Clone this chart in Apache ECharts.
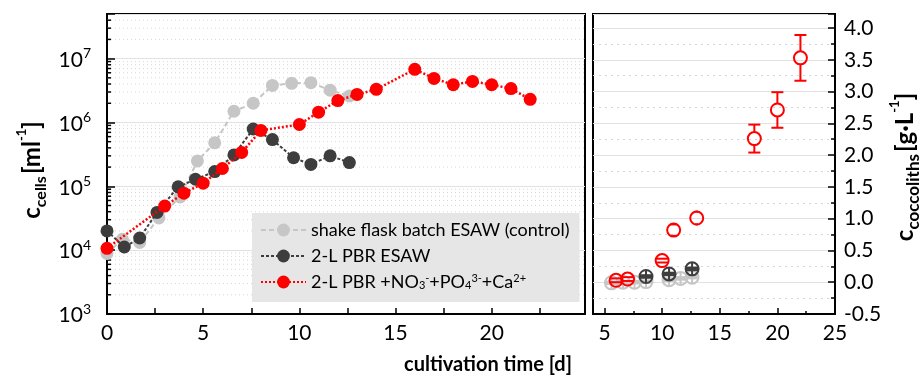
<!DOCTYPE html>
<html><head><meta charset="utf-8">
<script src="https://cdn.jsdelivr.net/npm/echarts@6/dist/echarts.min.js"></script>
<style>html,body{margin:0;padding:0;background:#fff}#c{width:919px;height:384px}</style>
</head><body><div id="c"></div>
<script>
// ---------- Left panel: cell concentration (log scale) ----------
const controlDays  = [0, 0.8, 1.7, 2.7, 3.8, 4.7, 5.6, 6.6, 7.6, 8.6, 9.6, 10.6, 11.6, 12.6];
const controlCells = [8.9e3, 1.48e4, 1.32e4, 3.2e4, 6.8e4, 2.5e5, 4.8e5, 1.5e6, 2.0e6, 3.8e6, 4.1e6, 4.2e6, 3.2e6, 2.6e6];
const pbrDays  = [0, 0.9, 1.7, 2.6, 3.7, 4.6, 5.6, 6.6, 7.6, 8.6, 9.7, 10.6, 11.6, 12.6];
const pbrCells = [2.0e4, 1.12e4, 1.55e4, 3.9e4, 9.8e4, 1.29e5, 1.7e5, 3.1e5, 7.9e5, 5.4e5, 2.8e5, 2.2e5, 3.0e5, 2.35e5];
const suppDays  = [0, 3, 4, 5, 6, 7, 8, 10, 11, 12, 13, 14, 16, 17, 18, 19, 20, 21, 22];
const suppCells = [1.07e4, 4.9e4, 7.8e4, 1.12e5, 1.9e5, 3.4e5, 7.5e5, 9.3e5, 1.45e6, 2.2e6, 2.75e6, 3.3e6, 6.8e6, 4.9e6, 3.9e6, 4.4e6, 3.9e6, 3.4e6, 2.3e6];

// ---------- Right panel: coccolith concentration ----------
const coccoCtrlDays = [5.6, 6.6, 7.6, 8.6, 10.6, 11.6, 12.6];
const coccoCtrl     = [-0.01, 0.0, 0.0, 0.01, 0.04, 0.06, 0.08];
const coccoCtrlErr  = [0.02, 0.02, 0.02, 0.02, 0.02, 0.02, 0.02];
const coccoPbrDays  = [8.6, 10.6, 12.6];
const coccoPbr      = [0.09, 0.13, 0.21];
const coccoPbrErr   = [0.02, 0.02, 0.02];
const coccoSuppDays = [6, 7, 10, 11, 13, 18, 20, 22];
const coccoSupp     = [0.03, 0.05, 0.34, 0.82, 1.01, 2.26, 2.71, 3.53];
const coccoSuppErr  = [0.03, 0.03, 0.03, 0.09, 0.1, 0.22, 0.28, 0.36];

// ---------- Labels ----------
const NAME_CTRL = 'shake flask batch ESAW (control)';
const NAME_PBR  = '2-L PBR ESAW';
const NAME_SUPP = '2-L PBR +NO3-+PO43-+Ca2+';
const xTitle = 'cultivation time [d]';

// axis decoration: minor log ticks (2..9 per decade)
const minorLogTicks = [];
for (let p = 3; p <= 7; p++) for (let m = 2; m <= 9; m++) { const v = m * Math.pow(10, p); if (v < 5e7) minorLogTicks.push(v); }

const FONT = 'Lato';
const zip = (a, b) => a.map((v, i) => [v, b[i]]);
const zip3 = (a, b, c) => a.map((v, i) => [v, b[i], c[i]]);
const X_MAX_L = 24.85, Y_MAX_L = 5e7;

const chart = echarts.init(document.getElementById('c'));

function markerRender(color, cross) {
  return function (params, api) {
    const x = api.value(0), y = api.value(1), e = api.value(2);
    const c = api.coord([x, y]);
    const lo = api.coord([x, y - e]), hi = api.coord([x, y + e]);
    const r = 6.5, cap = 6;
    const st = { stroke: color, lineWidth: 2 };
    const ch = [];
    if (hi[1] < c[1] - r) ch.push({ type: 'line', shape: { x1: c[0], y1: c[1] - r, x2: c[0], y2: hi[1] }, style: st });
    if (lo[1] > c[1] + r) ch.push({ type: 'line', shape: { x1: c[0], y1: c[1] + r, x2: c[0], y2: lo[1] }, style: st });
    const capHalf = Math.min(cap, hi[1] < c[1] - r ? cap : Math.sqrt(Math.max(r * r - (c[1] - hi[1]) * (c[1] - hi[1]), 0)));
    ch.push({ type: 'line', shape: { x1: c[0] - capHalf, y1: hi[1], x2: c[0] + capHalf, y2: hi[1] }, style: st });
    ch.push({ type: 'line', shape: { x1: c[0] - capHalf, y1: lo[1], x2: c[0] + capHalf, y2: lo[1] }, style: st });
    if (cross) {
      ch.push({ type: 'line', shape: { x1: c[0] - r, y1: c[1], x2: c[0] + r, y2: c[1] }, style: st });
      ch.push({ type: 'line', shape: { x1: c[0], y1: c[1] - r, x2: c[0], y2: c[1] + r }, style: st });
    }
    ch.push({ type: 'circle', shape: { cx: c[0], cy: c[1], r: r }, style: { stroke: color, lineWidth: 2, fill: 'rgba(0,0,0,0)' } });
    return { type: 'group', children: ch };
  };
}

const axisLineStyle = { show: true, onZero: false, lineStyle: { color: '#000', width: 2 } };
const tickStyle = { color: '#000', width: 1.5 };
const LBL = 21;

function titleRich(main, sub, sup) {
  return {
    c: { fontFamily: FONT, fontSize: main, fontWeight: 'bold', fill: '#000', lineHeight: 34, verticalAlign: 'middle' },
    s: { fontFamily: FONT, fontSize: sub, fontWeight: 'bold', fill: '#000', lineHeight: sub, verticalAlign: 'bottom' },
    b: { fontFamily: FONT, fontSize: main, fontWeight: 'bold', fill: '#000', lineHeight: 34, verticalAlign: 'middle' },
    p: { fontFamily: FONT, fontSize: sup, fontWeight: 'bold', fill: '#000', lineHeight: sup, verticalAlign: 'top' },
    w: { fontFamily: FONT, fontSize: 8, lineHeight: 8 }
  };
}

const option = {
  animation: false,
  backgroundColor: '#fff',
  textStyle: { fontFamily: FONT },
  grid: [
    { left: 107, top: 14, width: 478, height: 300, show: true, borderColor: '#000', borderWidth: 2, backgroundColor: 'rgba(0,0,0,0)' },
    { left: 593, top: 14, width: 242, height: 300, show: true, borderColor: '#000', borderWidth: 2, backgroundColor: 'rgba(0,0,0,0)' }
  ],
  legend: {
    data: [NAME_CTRL, NAME_PBR, NAME_SUPP],
    orient: 'vertical', left: 252, top: 213,
    padding: [8, 10, 11, 8],
    backgroundColor: '#e6e6e6',
    itemWidth: 45, itemHeight: 16, itemGap: 8,
    textStyle: {
      fontFamily: FONT, fontSize: 18, color: '#000', lineHeight: 18,
      rich: {
        sub: { fontFamily: FONT, fontSize: 11, verticalAlign: 'bottom', lineHeight: 18 },
        sup: { fontFamily: FONT, fontSize: 11, verticalAlign: 'top', lineHeight: 18 }
      }
    },
    formatter: function (name) {
      if (name === NAME_SUPP) return '2-L PBR +NO{sub|3}{sup|-}+PO{sub|4}{sup|3-}+Ca{sup|2+}';
      return name;
    }
  },
  xAxis: [
    {
      type: 'value', gridIndex: 0, min: 0, max: X_MAX_L, interval: 5,
      axisLine: axisLineStyle,
      axisTick: { show: true, inside: true, length: 6, lineStyle: tickStyle },
      minorTick: { show: true, splitNumber: 2, length: 6, lineStyle: tickStyle },
      splitLine: { show: false },
      axisLabel: { fontFamily: FONT, fontSize: LBL, color: '#000', margin: 9,
        formatter: v => (Math.abs(v % 5) < 1e-6 && v <= 20 ? String(v) : '') }
    },
    {
      type: 'value', gridIndex: 1, min: 4, max: 25, splitNumber: 4,
      axisLine: axisLineStyle,
      axisTick: { show: true, inside: true, length: 6, lineStyle: tickStyle },
      minorTick: { show: true, splitNumber: 2, length: 3, lineStyle: tickStyle },
      splitLine: { show: false },
      axisLabel: { fontFamily: FONT, fontSize: LBL, color: '#000', margin: 9, showMinLabel: false,
        formatter: v => (Math.abs(v % 5) < 1e-6 ? String(v) : '') }
    }
  ],
  yAxis: [
    {
      type: 'log', logBase: 10, gridIndex: 0, min: 1000, max: Y_MAX_L,
      axisLine: axisLineStyle,
      axisTick: { show: true, inside: true, length: 8, lineStyle: tickStyle },
      splitLine: { show: true, lineStyle: { color: '#e2e2e2', width: 1 } },
      axisLabel: {
        margin: 16, color: '#000',
        formatter: function (v) {
          const l = Math.log10(v), p = Math.round(l);
          return Math.abs(l - p) < 1e-6 ? '{b|10}{s|' + p + '}' : '';
        },
        rich: {
          b: { fontFamily: FONT, fontSize: LBL, color: '#000', lineHeight: 24, verticalAlign: 'bottom' },
          s: { fontFamily: FONT, fontSize: 14, color: '#000', lineHeight: 24, verticalAlign: 'top' }
        }
      }
    },
    {
      type: 'value', gridIndex: 1, position: 'right', min: -0.5, max: 4.22, interval: 0.5,
      axisLine: axisLineStyle,
      axisTick: { show: true, inside: true, length: 7, lineStyle: tickStyle },
      minorTick: { show: true, splitNumber: 2, length: 4, lineStyle: tickStyle },
      splitLine: { show: true, lineStyle: { color: '#e2e2e2', width: 1 } },
      minorSplitLine: { show: true, lineStyle: { color: '#d6d6d6', width: 1, type: [2, 4] } },
      axisLabel: { fontFamily: FONT, fontSize: LBL, color: '#000', margin: 9,
        formatter: v => (v > 4.1 ? '' : v.toFixed(1)) }
    }
  ],
  series: [
    {
      type: 'custom', name: 'minorLog', xAxisIndex: 0, yAxisIndex: 0, silent: true, z: 1,
      data: minorLogTicks.map(v => [0, v]),
      encode: { x: 0, y: 1 },
      renderItem: function (params, api) {
        const v = api.value(1);
        const p0 = api.coord([0, v]), p1 = api.coord([X_MAX_L, v]);
        return { type: 'group', children: [
          { type: 'line', shape: { x1: p0[0], y1: p0[1], x2: p1[0], y2: p1[1] }, style: { stroke: '#d8d8d8', lineWidth: 1, lineDash: [1, 3] } },
          { type: 'line', shape: { x1: p0[0], y1: p0[1], x2: p0[0] + 4, y2: p0[1] }, style: { stroke: '#000', lineWidth: 1.5 } }
        ] };
      }
    },
    {
      name: NAME_CTRL, type: 'line', xAxisIndex: 0, yAxisIndex: 0, z: 3,
      data: zip(controlDays, controlCells), symbol: 'circle', symbolSize: 13,
      itemStyle: { color: '#c6c6c6' }, lineStyle: { color: '#c6c6c6', width: 2, type: [5, 3] }
    },
    {
      name: NAME_PBR, type: 'line', xAxisIndex: 0, yAxisIndex: 0, z: 4,
      data: zip(pbrDays, pbrCells), symbol: 'circle', symbolSize: 13,
      itemStyle: { color: '#3d3d3d' }, lineStyle: { color: '#3d3d3d', width: 2, type: [3, 2] }
    },
    {
      name: NAME_SUPP, type: 'line', xAxisIndex: 0, yAxisIndex: 0, z: 5,
      data: zip(suppDays, suppCells), symbol: 'circle', symbolSize: 13,
      itemStyle: { color: '#ff0000' }, lineStyle: { color: '#ff0000', width: 2.5, type: [2, 2] }
    },
    {
      type: 'custom', name: 'coccoCtrl', xAxisIndex: 1, yAxisIndex: 1, z: 3,
      data: zip3(coccoCtrlDays, coccoCtrl, coccoCtrlErr), encode: { x: 0, y: 1 },
      renderItem: markerRender('#c6c6c6', true)
    },
    {
      type: 'custom', name: 'coccoPbr', xAxisIndex: 1, yAxisIndex: 1, z: 4,
      data: zip3(coccoPbrDays, coccoPbr, coccoPbrErr), encode: { x: 0, y: 1 },
      renderItem: markerRender('#3d3d3d', true)
    },
    {
      type: 'custom', name: 'coccoSupp', xAxisIndex: 1, yAxisIndex: 1, z: 5,
      data: zip3(coccoSuppDays, coccoSupp, coccoSuppErr), encode: { x: 0, y: 1 },
      renderItem: markerRender('#ff0000', false)
    }
  ],
  graphic: [
    {
      type: 'text', x: 488, y: 365,
      style: { text: xTitle, fontFamily: FONT, fontSize: 20, fontWeight: 'bold', fill: '#000', align: 'center', verticalAlign: 'middle' }
    },
    {
      type: 'text', x: 32, y: 170, rotation: Math.PI / 2,
      style: {
        text: '{c|c}{s|cells}{w| }{b|[ml}{p|-1}{b|]}',
        align: 'center', verticalAlign: 'middle',
        rich: titleRich(24, 16, 13)
      }
    },
    {
      type: 'text', x: 905, y: 167, rotation: Math.PI / 2,
      style: {
        text: '{c|c}{s|coccoliths}{w| }{b|[g·L}{p|-1}{b|]}',
        align: 'center', verticalAlign: 'middle',
        rich: titleRich(24, 17, 13)
      }
    }
  ]
};
chart.setOption(option);
</script>
</body></html>
